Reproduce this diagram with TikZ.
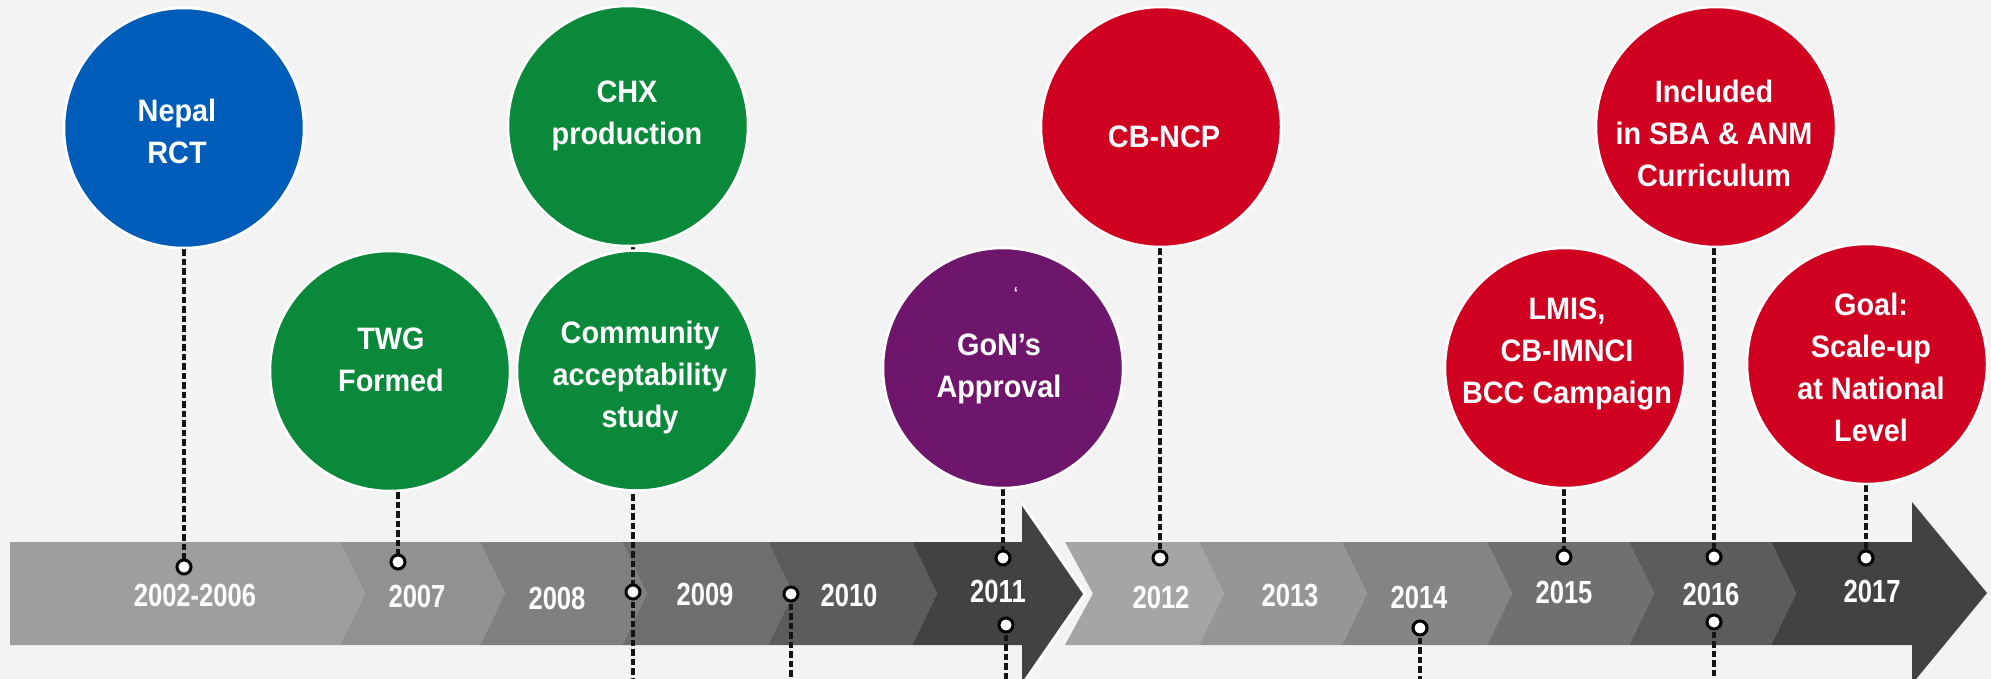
\documentclass[tikz,border=0pt]{standalone}
\usepackage{fontspec}
\newfontfamily\circfont[FakeStretch=0.93]{Liberation Sans}
\newfontfamily\yearfont[FakeStretch=0.8]{Liberation Sans}
\definecolor{bgc}{RGB}{243,243,243}
\definecolor{cblue}{RGB}{0,92,185}
\definecolor{cgreen}{RGB}{10,137,58}
\definecolor{cpurple}{RGB}{110,22,108}
\definecolor{cred}{RGB}{208,0,32}
\definecolor{ga1}{RGB}{158,158,158}
\definecolor{ga2}{RGB}{145,145,145}
\definecolor{ga3}{RGB}{128,128,128}
\definecolor{ga4}{RGB}{110,110,110}
\definecolor{ga5}{RGB}{92,92,92}
\definecolor{ga6}{RGB}{66,66,66}
\definecolor{gb1}{RGB}{165,165,165}
\definecolor{gb2}{RGB}{150,150,150}
\definecolor{gb3}{RGB}{132,132,132}
\definecolor{gb4}{RGB}{112,112,112}
\definecolor{gb5}{RGB}{92,92,92}
\definecolor{gb6}{RGB}{66,66,66}
\pgfdeclarelayer{bandlayer}
\pgfdeclarelayer{linelayer}
\pgfsetlayers{bandlayer,linelayer,main}
\tikzset{
  bubble/.style={circle, minimum size=240pt, inner sep=0pt, draw=white, line width=2.5pt},
  ctext/.style={text=white, align=center, inner sep=0pt, font=\circfont\bfseries\fontsize{31}{42}\selectfont},
  ytext/.style={text=white, inner sep=0pt, font=\yearfont\bfseries\fontsize{32}{38}\selectfont},
  dashline/.style={draw=black!92, line width=3.8pt, dash pattern=on 6.5pt off 3pt},
  dotnode/.style={circle, fill=white, draw=black, line width=3pt, minimum size=14pt, inner sep=0pt},
}
\begin{document}
\begin{tikzpicture}[x=1pt, y=-1pt]
\begin{pgfonlayer}{bandlayer}
\fill[bgc] (0,0) rectangle (1991,679);
\end{pgfonlayer}
\useasboundingbox (0,0) rectangle (1991,679);
\clip (0,0) rectangle (1991,679);
\coordinate (bot) at (0,682);
\begin{pgfonlayer}{bandlayer}
% ---- first band
\fill[ga1] (10,542) -- (340,542) -- (365,593.5) -- (340,645) -- (10,645) -- cycle;
\fill[ga2] (340,542) -- (480,542) -- (505,593.5) -- (480,645) -- (340,645) -- (365,593.5) -- cycle;
\fill[ga3] (480,542) -- (622,542) -- (647,593.5) -- (622,645) -- (480,645) -- (505,593.5) -- cycle;
\fill[ga4] (622,542) -- (768,542) -- (793,593.5) -- (768,645) -- (622,645) -- (647,593.5) -- cycle;
\fill[ga5] (768,542) -- (912,542) -- (937,593.5) -- (912,645) -- (768,645) -- (793,593.5) -- cycle;
\fill[ga6] (912,542) -- (1022,542) -- (1022,503) -- (1085,594) -- (1022,685) -- (1022,645) -- (912,645) -- (937,593.5) -- cycle;
\draw[white, line width=3pt, line join=miter] (1022,503) -- (1085,594) -- (1022,685);
% ---- second band
\fill[gb1] (1065,542) -- (1199,542) -- (1224,593.5) -- (1199,645) -- (1065,645) -- (1093,593.5) -- cycle;
\fill[gb2] (1199,542) -- (1342,542) -- (1367,593.5) -- (1342,645) -- (1199,645) -- (1224,593.5) -- cycle;
\fill[gb3] (1342,542) -- (1487,542) -- (1512,593.5) -- (1487,645) -- (1342,645) -- (1367,593.5) -- cycle;
\fill[gb4] (1487,542) -- (1629,542) -- (1654,593.5) -- (1629,645) -- (1487,645) -- (1512,593.5) -- cycle;
\fill[gb5] (1629,542) -- (1771,542) -- (1796,593.5) -- (1771,645) -- (1629,645) -- (1654,593.5) -- cycle;
\fill[gb6] (1771,542) -- (1912,542) -- (1912,502) -- (1987,593) -- (1912,684) -- (1912,645) -- (1771,645) -- (1796,593.5) -- cycle;
% ---- year labels
\node[ytext] (y0) at (195,595) {2002-2006};
\node[ytext] (y1) at (417,596.5) {2007};
\node[ytext] (y2) at (557,598) {2008};
\node[ytext] (y3) at (705,594.5) {2009};
\node[ytext] (y4) at (849,595) {2010};
\node[ytext] (y5) at (998,591.5) {2011};
\node[ytext] (y6) at (1161,597.5) {2012};
\node[ytext] (y7) at (1290,596) {2013};
\node[ytext] (y8) at (1419,597) {2014};
\node[ytext] (y9) at (1564,592.5) {2015};
\node[ytext] (y10) at (1711,594) {2016};
\node[ytext] (y11) at (1872,591.5) {2017};
\end{pgfonlayer}
% ---- bubbles
\node[bubble, fill=cblue] (nepal) at (184,128) {};
\node[bubble, fill=cgreen] (chx) at (628,126) {};
\node[bubble, fill=cred] (cbncp) at (1161,127) {};
\node[bubble, fill=cred] (incl) at (1716,127) {};
\node[bubble, fill=cgreen] (twg) at (390,371) {};
\node[bubble, fill=cgreen] (comm) at (637,370.5) {};
\node[bubble, fill=cpurple] (gon) at (1003,368) {};
\node[bubble, fill=cred] (lmis) at (1565,368) {};
\node[bubble, fill=cred] (goal) at (1867,364) {};
% ---- dots
\node[dotnode] (d0) at (184,567) {};
\node[dotnode] (d1) at (398,562) {};
\node[dotnode] (d2) at (633,592) {};
\node[dotnode] (d3) at (791,594) {};
\node[dotnode] (d4a) at (1003,558) {};
\node[dotnode] (d4b) at (1006,625) {};
\node[dotnode] (d5) at (1160,558) {};
\node[dotnode] (d6) at (1420,628) {};
\node[dotnode] (d7) at (1564,557) {};
\node[dotnode] (d8a) at (1714,557) {};
\node[dotnode] (d8b) at (1714,622) {};
\node[dotnode] (d9) at (1866,558) {};
% ---- connectors
\begin{pgfonlayer}{linelayer}
\draw[dashline] (nepal.south -| d0) -- (d0.center);
\draw[dashline] (twg.south -| d1) -- (d1.center);
\draw[dashline] (chx.south -| d2) -- (d2.center);
\draw[dashline] (d2.center) -- (d2 |- bot);
\draw[dashline] (d3.center) -- (d3 |- bot);
\draw[dashline] (gon.south -| d4a) -- (d4a.center);
\draw[dashline] (d4b.center) -- (d4b |- bot);
\draw[dashline] (cbncp.south -| d5) -- (d5.center);
\draw[dashline] (d6.center) -- (d6 |- bot);
\draw[dashline] (lmis.south -| d7) -- (d7.center);
\draw[dashline] (incl.south -| d8a) -- (d8a.center);
\draw[dashline] (d8b.center) -- (d8b |- bot);
\draw[dashline] (goal.south -| d9) -- (d9.center);
\end{pgfonlayer}
% ---- texts
\node[ctext] (nepalT) at (177,131.5) {Nepal\\RCT};
\node[ctext] (chxT) at (627,116) {CHX\\production};
\node[ctext] (cbncpT) at (1164,136.5) {CB-NCP};
\node[ctext] (inclT) at (1714,133.5) {Included\\in SBA \& ANM\\Curriculum};
\node[ctext] (twgT) at (391,360) {TWG\\Formed};
\node[ctext] (commT) at (640,377) {Community\\acceptability\\study};
\node[ctext] (gonT) at (999,369) {GoN’s\\Approval};
\node[ctext, font=\circfont\bfseries\fontsize{16}{16}\selectfont] (tick) at (1016,293) {‘};
\node[ctext] (lmisT) at (1567,354) {LMIS,\\CB-IMNCI\\BCC Campaign};
\node[ctext] (goalT) at (1871,367.5) {Goal:\\Scale-up\\at National\\Level};
\end{tikzpicture}
\end{document}
